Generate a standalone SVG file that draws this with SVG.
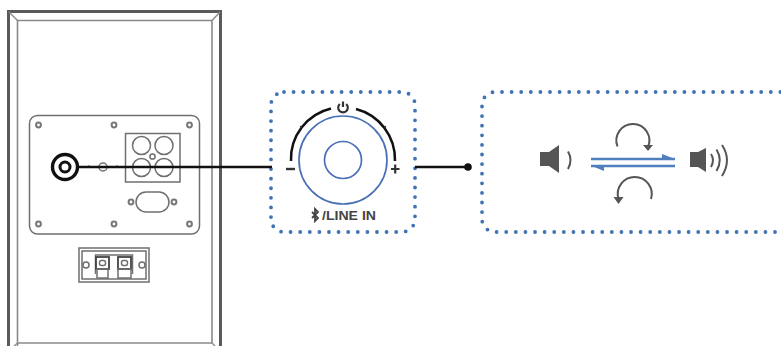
<svg xmlns="http://www.w3.org/2000/svg" width="781" height="346" viewBox="0 0 781 346">
<style>
.g{fill:none;stroke:#6f6f6f;stroke-width:1.5}
.s{fill:#fff;stroke:#777;stroke-width:2}
.d{fill:none;stroke:#3f73b5;stroke-width:3.8;stroke-linecap:round;stroke-dasharray:0 9.6}
.b{fill:none;stroke:#4a70b8;stroke-width:1.7}
.k{fill:none;stroke:#111;stroke-linecap:butt}
.i{fill:#555;stroke:none}
.a{fill:none;stroke:#555;stroke-width:2}
.ar{fill:none;stroke:#4f80bd;stroke-width:2.300}
</style>
<rect width="781" height="346" fill="#fff"/>
<g id="speaker-cabinet">
<path d="M8.500 346V11.500H220.500V346" fill="none" stroke="#5a5a5a" stroke-width="3"/>
<path d="M17.500 346V20.500H212V343H17.500" fill="none" stroke="#8a8a8a" stroke-width="1.600"/>
<path d="M9 12L17.500 20.500M220 12L212 20.500M17.500 343L14 346M212 343L215 346" fill="none" stroke="#8a8a8a" stroke-width="1.400"/>
</g>
<g id="rear-panel">
<rect x="29.500" y="115.500" width="170" height="118.500" rx="8" class="g"/>
<g class="s"><circle cx="38.500" cy="125" r="2.400"/><circle cx="114" cy="125" r="2.400"/><circle cx="189.500" cy="125" r="2.400"/><circle cx="38.500" cy="224" r="2.400"/><circle cx="114" cy="224" r="2.400"/><circle cx="189.500" cy="224" r="2.400"/></g>
<circle cx="103" cy="167" r="4" class="g"/>
<circle cx="89" cy="166" r="1" fill="#999"/><circle cx="117" cy="166" r="1" fill="#999"/>
<rect x="125.500" y="133.500" width="54.500" height="48.500" class="g"/>
<g class="g"><circle cx="141.500" cy="145.500" r="9"/><circle cx="164" cy="145.500" r="9"/><circle cx="141.500" cy="167.500" r="9"/><circle cx="164" cy="167.500" r="9"/><circle cx="152.500" cy="156.500" r="2.600"/></g>
<rect x="136" y="192" width="33" height="20" rx="10" class="g"/>
<circle cx="131" cy="202" r="2.400" class="s"/><circle cx="174" cy="202" r="2.400" class="s"/>
</g>
<g id="speaker-terminal">
<rect x="79" y="248" width="70" height="34" class="g"/>
<rect x="82" y="251" width="64" height="28" class="g"/>
<circle cx="86" cy="265" r="3" class="g"/><circle cx="142" cy="265" r="3" class="g"/>
<path d="M95.500 274V255H132.500V274" class="g"/>
<rect x="96" y="257" width="13" height="12" fill="none" stroke="#444" stroke-width="1.800"/>
<rect x="118" y="257" width="13" height="12" fill="none" stroke="#444" stroke-width="1.800"/>
<rect x="99.500" y="260.500" width="6" height="5" rx="2" class="g"/><rect x="121.500" y="260.500" width="6" height="5" rx="2" class="g"/>
<rect x="97" y="269" width="11" height="9" class="g"/><rect x="118" y="269" width="13" height="9" class="g"/>
</g>
<g id="control-box">
<rect x="271" y="92" width="144" height="140" rx="13" class="d"/>
<circle cx="343" cy="160" r="44" class="b"/>
<circle cx="343" cy="160" r="18.500" class="b"/>
<path d="M291 161A52 52 0 0 1 331 108.500M356 109A52 52 0 0 1 395 161" class="k" stroke-width="2.500"/>
<circle cx="301" cy="127" r="1.200" fill="#333"/><circle cx="385" cy="127" r="1.200" fill="#333"/>
<path d="M343 101.500V107M339.800 104A4.800 4.800 0 1 0 346.200 104" fill="none" stroke="#333" stroke-width="2.200"/>
<path d="M286 169H295" stroke="#333" stroke-width="2.400" fill="none"/>
<path d="M391 169H399.500M395.200 164.500V173.500" stroke="#333" stroke-width="2.200" fill="none"/>
<path d="M312 212L318 218L315 221V209L318 212L312 218" fill="none" stroke="#444" stroke-width="1.800"/>
<text x="322" y="219.500" font-family="'Liberation Sans',Arial,sans-serif" font-size="12.500" font-weight="700" fill="#444" textLength="54" lengthAdjust="spacingAndGlyphs">/LINE IN</text>
</g>
<g id="mode-box">
<path d="M790 92H495A13 13 0 0 0 482 105V219A13 13 0 0 0 495 232H790" class="d"/>
<g id="speaker-low">
<path d="M540 152H549L559 145V173L549 166H540Z" class="i"/>
<path d="M568 151.500Q573 160 568 169" class="a"/>
</g>
<g id="speaker-high">
<path d="M690 152H698L706 148V172L698 167H690Z" class="i"/>
<path d="M711 154Q715 160 711 167M716.500 149.500Q723 160 716.500 171M722 145Q732 160 722 176" class="a"/>
</g>
<path d="M591 159H675M591 166H675" class="ar"/>
<path d="M662 154L675 159H662ZM592 166H604V171Z" fill="#4f80bd"/>
<path d="M617.500 146.500A16.500 16.500 0 1 1 648 147" class="a"/>
<path d="M643 145H653L648 151Z" fill="#555"/>
<path d="M651 199A17 17 0 1 0 618.500 199" class="a"/>
<path d="M613.500 197H623.500L618.500 204Z" fill="#555"/>
</g>
<g id="connectors">
<path d="M76 167H272M415 167H468" class="k" stroke-width="2.500"/>
<circle cx="468" cy="167" r="3.800" fill="#111"/>
<circle cx="65" cy="167" r="12.500" fill="none" stroke="#111" stroke-width="3.400"/>
<circle cx="65" cy="167" r="5" fill="none" stroke="#111" stroke-width="3"/>
</g>
</svg>
